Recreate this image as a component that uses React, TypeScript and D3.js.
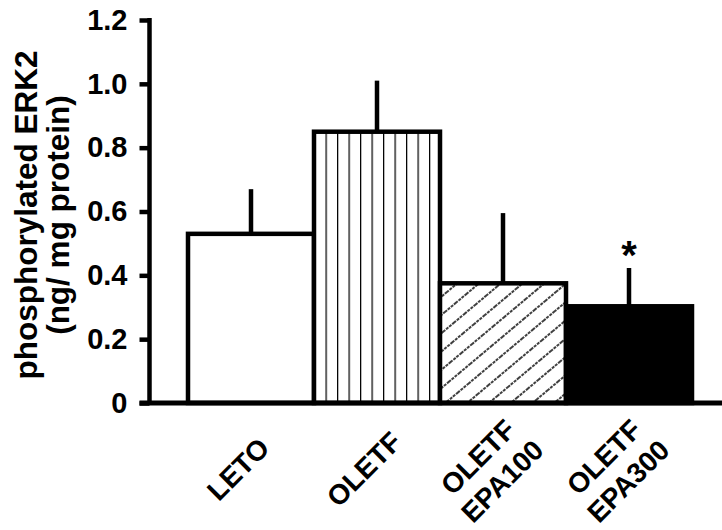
import React, { useEffect, useRef } from "react";
import * as d3 from "d3";

// values
const groups = ["LETO", "OLETF", "OLETF EPA100", "OLETF EPA300"];
const groupLines = [["LETO"], ["OLETF"], ["OLETF", "EPA100"], ["OLETF", "EPA300"]];
const means = [0.53, 0.85, 0.375, 0.303];
const sems = [0.14, 0.16, 0.22, 0.12];
const marked = [false, false, false, true];
const yTicks = [0, 0.2, 0.4, 0.6, 0.8, 1.0, 1.2];
const yTitle = ["phosphorylated ERK2", "(ng/ mg protein)"];

const FONT = "'Liberation Sans', Arial, Helvetica, sans-serif";

const App = () => {
  const ref = useRef<SVGGElement>(null);

  useEffect(() => {
    const width = 722;
    const axisX = 149.5;
    const baseY = 403;

    const svg = d3.select(ref.current);
    svg.selectAll("*").remove();

    const x = d3.scaleBand().domain(groups).range([188, 692]).padding(0);
    const y = d3.scaleLinear().domain([0, 1.2]).range([baseY, 20]);

    const defs = svg.append("defs");
    const vs = defs
      .append("pattern")
      .attr("id", "vstripe")
      .attr("patternUnits", "userSpaceOnUse")
      .attr("width", 11.5)
      .attr("height", 20)
      .attr("patternTransform", "translate(" + x("OLETF") + ",0)");
    vs.append("rect").attr("width", 11.5).attr("height", 20).attr("fill", "#fff");
    vs.append("line")
      .attr("x1", 0)
      .attr("x2", 0)
      .attr("y1", 0)
      .attr("y2", 20)
      .attr("stroke", "#000")
      .attr("stroke-width", 2.5);

    const hatch = defs
      .append("pattern")
      .attr("id", "hatch")
      .attr("patternUnits", "userSpaceOnUse")
      .attr("width", 14)
      .attr("height", 14)
      .attr("patternTransform", "rotate(-40)");
    hatch.append("rect").attr("width", 14).attr("height", 14).attr("fill", "#fff");
    hatch
      .append("line")
      .attr("x1", 0)
      .attr("x2", 14)
      .attr("y1", 7)
      .attr("y2", 7)
      .attr("stroke", "#000")
      .attr("stroke-width", 1.5)
      .attr("stroke-dasharray", "3,1");

    const fills = ["#fff", "url(#vstripe)", "url(#hatch)", "#000"];

    // error bars (upper only)
    svg
      .append("g")
      .selectAll("line")
      .data(groups)
      .join("line")
      .attr("x1", (d) => x(d)! + x.bandwidth() / 2)
      .attr("x2", (d) => x(d)! + x.bandwidth() / 2)
      .attr("y1", (d, i) => y(means[i]))
      .attr("y2", (d, i) => y(means[i] + sems[i]))
      .attr("stroke", "#000")
      .attr("stroke-width", 4.5);

    // bars
    svg
      .append("g")
      .selectAll("rect")
      .data(groups)
      .join("rect")
      .attr("x", (d) => x(d)!)
      .attr("y", (d, i) => y(means[i]))
      .attr("width", x.bandwidth())
      .attr("height", (d, i) => baseY - y(means[i]))
      .attr("fill", (d, i) => fills[i])
      .attr("stroke", "#000")
      .attr("stroke-width", 4.5);

    // significance mark
    svg
      .append("g")
      .selectAll("text")
      .data(groups.filter((d, i) => marked[i]))
      .join("text")
      .attr("x", (d) => x(d)! + x.bandwidth() / 2)
      .attr("y", (d) => {
        const i = groups.indexOf(d);
        return y(means[i] + sems[i]) + 1;
      })
      .attr("text-anchor", "middle")
      .attr("font-family", FONT)
      .attr("font-weight", "bold")
      .attr("font-size", 40)
      .text("*");

    // y axis
    const yAxis = d3
      .axisLeft(y)
      .tickValues(yTicks)
      .tickSize(10)
      .tickPadding(12)
      .tickFormat((d: any) => (d === 0 ? "0" : d3.format(".1f")(d)));

    svg
      .append("g")
      .attr("transform", `translate(${axisX},0)`)
      .call(yAxis)
      .call((g) => g.select(".domain").remove())
      .call((g) =>
        g.selectAll(".tick line").attr("stroke", "#000").attr("stroke-width", 4.5)
      )
      .call((g) =>
        g
          .selectAll(".tick text")
          .attr("fill", "#000")
          .attr("font-family", FONT)
          .attr("font-weight", "bold")
          .attr("font-size", 29)
      );

    svg
      .append("line")
      .attr("x1", axisX)
      .attr("x2", axisX)
      .attr("y1", y(1.2) - 2)
      .attr("y2", baseY)
      .attr("stroke", "#000")
      .attr("stroke-width", 4.5);

    // baseline
    svg
      .append("line")
      .attr("x1", axisX - 10)
      .attr("x2", width)
      .attr("y1", baseY)
      .attr("y2", baseY)
      .attr("stroke", "#000")
      .attr("stroke-width", 5);

    // y title
    const title = svg
      .append("g")
      .attr("transform", "translate(0,215) rotate(-90)")
      .append("text")
      .attr("text-anchor", "middle")
      .attr("font-family", FONT)
      .attr("font-weight", "bold")
      .attr("font-size", 31.5);
    yTitle.forEach((t, i) => {
      title
        .append("tspan")
        .attr("x", 0)
        .attr("y", i === 0 ? 37 : 69)
        .text(t);
    });

    // category labels, rotated 45 degrees
    const lh = 34;
    groupLines.forEach((lines, gi) => {
      const cx = x(groups[gi])! + x.bandwidth() / 2 - 6;
      const t = svg
        .append("g")
        .attr("transform", "translate(" + cx + "," + (baseY + 73) + ") rotate(-45)")
        .append("text")
        .attr("text-anchor", "middle")
        .attr("font-family", FONT)
        .attr("font-weight", "bold")
        .attr("font-size", 28);
      lines.forEach((l, k) => {
        t.append("tspan")
          .attr("x", 0)
          .attr("y", (k - (lines.length - 1) / 2) * lh)
          .text(l);
      });
    });
  }, []);

  return (
    <svg width={722} height={530} style={{ position: "absolute", left: 0, top: 0 }}>
      <rect width={722} height={530} fill="#fff" />
      <g ref={ref}></g>
    </svg>
  );
};

export default App;
